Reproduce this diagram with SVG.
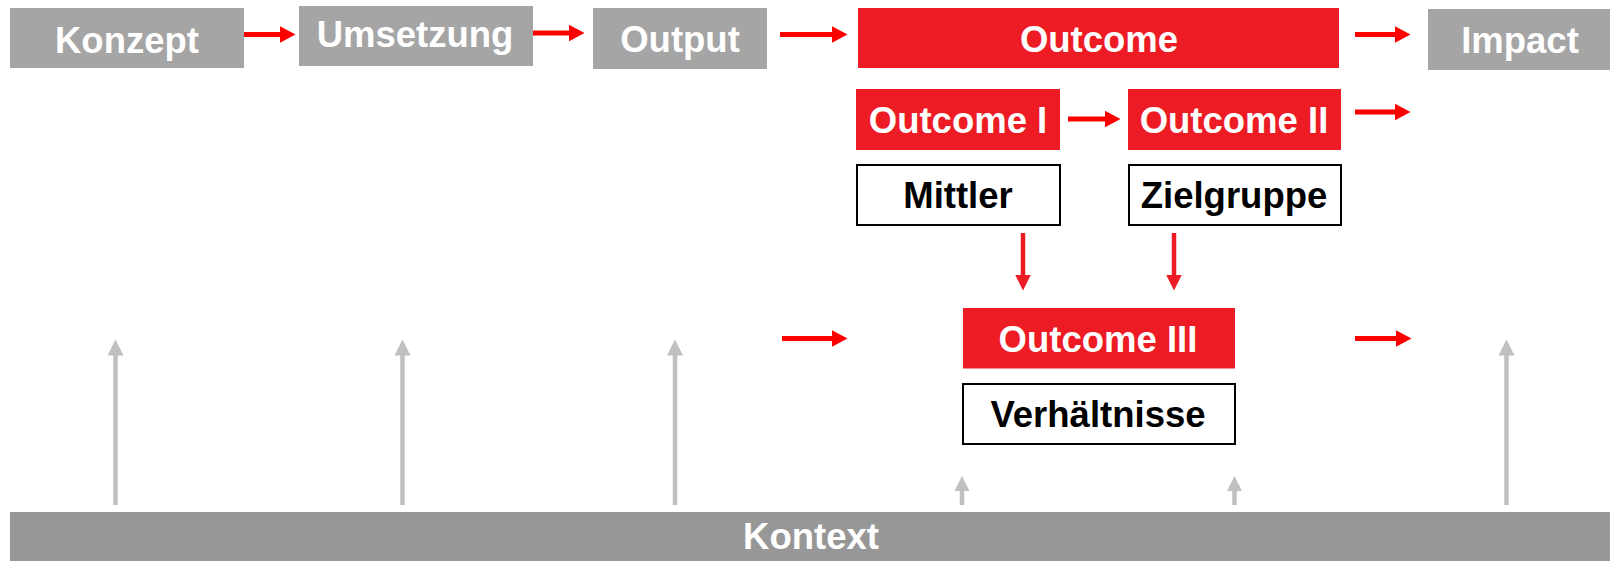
<svg xmlns="http://www.w3.org/2000/svg" width="1610" height="561" viewBox="0 0 1610 561">
  <style>
    .lbl { font-family: "Liberation Sans", Arial, sans-serif; font-weight: bold; font-size: 36.5px; text-anchor: middle; }
    .grey { fill: #a5a5a5; }
    .red { fill: #ed1c24; }
    .plain { fill: #ffffff; stroke: #000000; stroke-width: 2; }
    .wt { fill: #ffffff; }
    .bk { fill: #000000; }
    .flow { stroke: #ff0000; stroke-width: 5; fill: none; }
    .down { stroke: #ed1c24; stroke-width: 4.5; fill: none; }
    .ctx { stroke: #c0c0c0; stroke-width: 4.5; fill: none; }
  </style>
  <defs>
    <marker id="headFlow" markerUnits="userSpaceOnUse" viewBox="0 0 16 17" markerWidth="16" markerHeight="17" refX="0.5" refY="8.5" orient="auto">
      <path d="M0,0 L16,8.5 L0,17 Z" fill="#ff0000"/>
    </marker>
    <marker id="headDown" markerUnits="userSpaceOnUse" viewBox="0 0 16 16" markerWidth="16" markerHeight="16" refX="0.5" refY="8" orient="auto">
      <path d="M0,0 L16,8 L0,16 Z" fill="#ed1c24"/>
    </marker>
    <marker id="headCtx" markerUnits="userSpaceOnUse" viewBox="0 0 16 16" markerWidth="16" markerHeight="16" refX="0.5" refY="8" orient="auto">
      <path d="M0,0 L16,8 L0,16 Z" fill="#c0c0c0"/>
    </marker>
    <marker id="headCtxSmall" markerUnits="userSpaceOnUse" viewBox="0 0 15 15" markerWidth="15" markerHeight="15" refX="0.5" refY="7.5" orient="auto">
      <path d="M0,0 L15,7.5 L0,15 Z" fill="#c0c0c0"/>
    </marker>
  </defs>

  <!-- Context bar across the bottom -->
  <g id="kontext">
    <rect x="10" y="512" width="1600" height="49" fill="#979797"/>
    <text class="lbl wt" x="811" y="549">Kontext</text>
  </g>

  <!-- Main chain -->
  <g id="konzept">
    <rect class="grey" x="10" y="8" width="234" height="60"/>
    <text class="lbl wt" x="127" y="52.5">Konzept</text>
  </g>
  <g id="umsetzung">
    <rect class="grey" x="299" y="6" width="234" height="60"/>
    <text class="lbl wt" x="415" y="47">Umsetzung</text>
  </g>
  <g id="output">
    <rect class="grey" x="593" y="8" width="174" height="61"/>
    <text class="lbl wt" x="680" y="52">Output</text>
  </g>
  <g id="outcome">
    <rect class="red" x="858" y="8" width="481" height="60"/>
    <text class="lbl wt" x="1099" y="52">Outcome</text>
  </g>
  <g id="impact">
    <rect class="grey" x="1428" y="9" width="182" height="61"/>
    <text class="lbl wt" x="1520" y="52.5">Impact</text>
  </g>

  <!-- Outcome breakdown -->
  <g id="outcome-1">
    <rect class="red" x="856" y="89" width="204" height="61"/>
    <text class="lbl wt" x="958" y="133">Outcome I</text>
  </g>
  <g id="outcome-2">
    <rect class="red" x="1128" y="89" width="213" height="61"/>
    <text class="lbl wt" x="1234" y="133">Outcome II</text>
  </g>
  <g id="mittler">
    <rect class="plain" x="857" y="165" width="203" height="60"/>
    <text class="lbl bk" x="958" y="208">Mittler</text>
  </g>
  <g id="zielgruppe">
    <rect class="plain" x="1129" y="165" width="212" height="60"/>
    <text class="lbl bk" x="1234" y="208">Zielgruppe</text>
  </g>
  <g id="outcome-3">
    <rect class="red" x="963" y="308" width="272" height="60.5"/>
    <text class="lbl wt" x="1098" y="352">Outcome III</text>
  </g>
  <g id="verhaeltnisse">
    <rect class="plain" x="963" y="384" width="272" height="60"/>
    <text class="lbl bk" x="1098" y="427">Verhältnisse</text>
  </g>

  <!-- Connectors -->
  <g id="connectors">
    <path class="flow" d="M244,34.5 H280" marker-end="url(#headFlow)"/>
    <path class="flow" d="M533,33 H569" marker-end="url(#headFlow)"/>
    <path class="flow" d="M780,34.5 H832" marker-end="url(#headFlow)"/>
    <path class="flow" d="M1355,34.5 H1395" marker-end="url(#headFlow)"/>
    <path class="flow" d="M1068,119 H1105" marker-end="url(#headFlow)"/>
    <path class="flow" d="M1355,112 H1395" marker-end="url(#headFlow)"/>
    <path class="flow" d="M782,338.5 H832" marker-end="url(#headFlow)"/>
    <path class="flow" d="M1355,338.5 H1396" marker-end="url(#headFlow)"/>

    <path class="down" d="M1023,233 V275" marker-end="url(#headDown)"/>
    <path class="down" d="M1174,233 V275" marker-end="url(#headDown)"/>

    <path class="ctx" d="M115.5,505 V355" marker-end="url(#headCtx)"/>
    <path class="ctx" d="M402.5,505 V355" marker-end="url(#headCtx)"/>
    <path class="ctx" d="M675,505 V355" marker-end="url(#headCtx)"/>
    <path class="ctx" d="M1506.5,505 V355" marker-end="url(#headCtx)"/>
    <path class="ctx" d="M962,505 V490.5" marker-end="url(#headCtxSmall)"/>
    <path class="ctx" d="M1234.5,505 V490.5" marker-end="url(#headCtxSmall)"/>
  </g>
</svg>
